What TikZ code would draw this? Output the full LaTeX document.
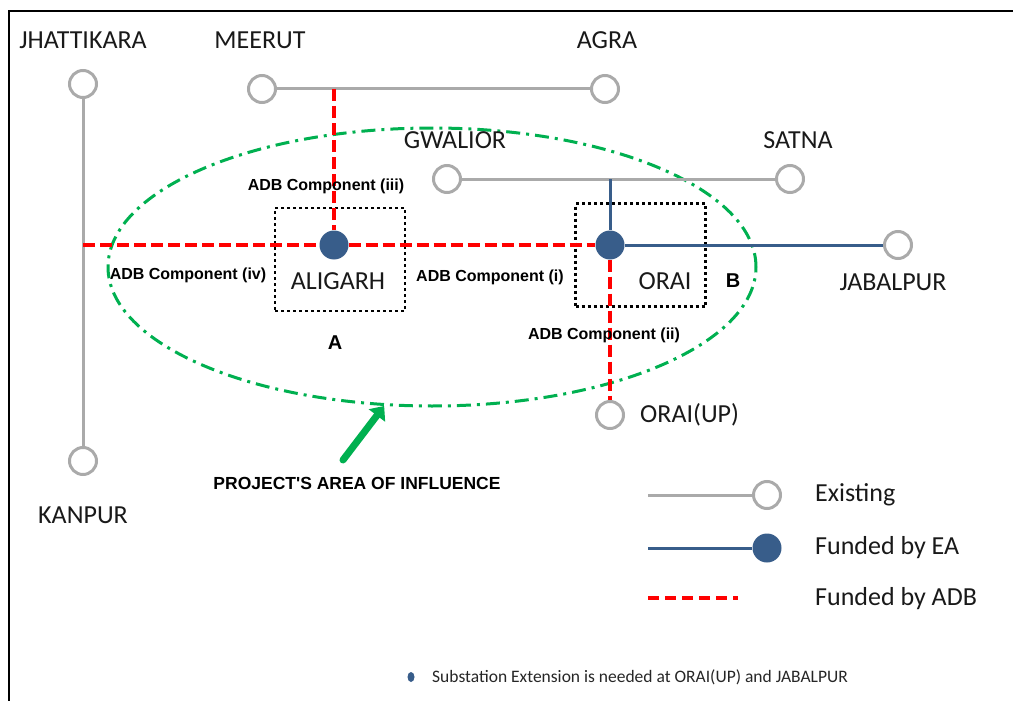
\documentclass[tikz,border=0pt]{standalone}
\usepackage{fontspec}
\setmainfont{Carlito}
\newfontfamily\arialfont{Liberation Sans}
\usetikzlibrary{positioning}
\usetikzlibrary{calc}
\usetikzlibrary{shapes.geometric}
\usetikzlibrary{arrows.meta}
\definecolor{linegrey}{RGB}{170,170,170}
\definecolor{eablue}{RGB}{56,93,138}
\definecolor{adbred}{RGB}{255,0,0}
\definecolor{areagreen}{RGB}{0,176,80}
\tikzset{
    % Substation symbols
    existing station/.style={
        draw=linegrey, line width=3pt, circle, fill=white,
        inner sep=0, minimum size=27pt},
    funded station/.style={
        circle, fill=eablue, inner sep=0, minimum size=29pt},
%
    % Lines, one style for each source of funds
    existing line/.style={draw=linegrey, line width=3pt},
    ea line/.style={draw=eablue, line width=3pt},
    adb line/.style={draw=adbred, line width=3.5pt, dash pattern=on 12pt off 5pt},
%
    % Text
    city/.style={font=\fontsize{26}{30}\selectfont, text=black!90, inner sep=0},
    component/.style={font=\arialfont\bfseries\fontsize{16}{19}\selectfont, inner sep=0},
%
    % Dotted box round a funded substation
    site box/.style={
        draw, line width=2.5pt, dash pattern=on 3pt off 3pt,
        inner sep=0, minimum width=130pt, minimum height=103pt}}

\begin{document}
\begin{tikzpicture}[x=1pt, y=-1pt]
\useasboundingbox (0,0) rectangle (1013,701);

% Frame
\draw[line width=2pt] (9,701) -- (9,11) -- (1013,11);

% Area of influence
\node[ellipse, draw=areagreen, line width=3pt,
    dash pattern=on 14pt off 6pt on 3pt off 6pt,
    inner sep=0, minimum width=648pt, minimum height=278pt]
    (influence) at (432,267) {};

% Boxes A and B
\node[site box] (box a) at (340,259.5) {};
\node[site box] (box b) at (640.5,255) {};
\node[component, font=\arialfont\bfseries\fontsize{20}{24}\selectfont]
    (label a) at (335,343) {A};
\node[component, font=\arialfont\bfseries\fontsize{20}{24}\selectfont]
    (label b) at (733,281) {B};

% Substations
\node[existing station] (jhattikara) at (83,84) {};
\node[existing station] (kanpur) at (83,461) {};
\node[existing station] (meerut) at (262,89) {};
\node[existing station] (agra) at (605,89) {};
\node[existing station] (gwalior) at (447,179) {};
\node[existing station] (satna) at (790,179) {};
\node[existing station] (jabalpur) at (898,245) {};
\node[existing station] (orai up) at (610,415) {};
\node[funded station] (aligarh) at (334,245) {};
\node[funded station] (orai) at (610,245) {};

% Taps on the existing lines
\coordinate (meerut tap) at (334,89);
\coordinate (gwalior tap) at (610,179);
\coordinate (kanpur tap) at (83,245);

% Existing lines
\draw[existing line] (jhattikara) -- (kanpur);
\draw[existing line] (meerut) -- (agra);
\draw[existing line] (gwalior) -- (satna);

% Lines funded by EA
\draw[ea line] (gwalior tap) -- (orai);
\draw[ea line] (orai) -- (jabalpur);

% Lines funded by ADB
\draw[adb line] (meerut tap) -- (aligarh);
\draw[adb line] (kanpur tap) -- (aligarh);
\draw[adb line] (aligarh) -- (orai);
\draw[adb line] (orai) -- (orai up);

% Place names
\node[city] (jhattikara name) at (83,40) {JHATTIKARA};
\node[city] (kanpur name) at (83,515) {KANPUR};
\node[city] (meerut name) at (260,40) {MEERUT};
\node[city] (agra name) at (607,40) {AGRA};
\node[city] (gwalior name) at (455,140) {GWALIOR};
\node[city] (satna name) at (798,140) {SATNA};
\node[city] (jabalpur name) at (893,282) {JABALPUR};
\node[city, anchor=west] (orai up name) at (640,415) {ORAI(UP)};
\node[city] (aligarh name) at (338,281) {ALIGARH};
\node[city] (orai name) at (665,281) {ORAI};

% Components
\node[component] (component iii) at (326,186) {ADB Component (iii)};
\node[component] (component iv) at (188,275) {ADB Component (iv)};
\node[component] (component i) at (490,277) {ADB Component (i)};
\node[component] (component ii) at (604,335) {ADB Component (ii)};

% Pointer to the area of influence
\node[component, font=\arialfont\bfseries\fontsize{17.5}{21}\selectfont]
    (area name) at (357,483) {PROJECT'S AREA OF INFLUENCE};
\coordinate (area arrow tail) at (343,460);
\draw[areagreen, line width=7pt, line cap=round,
    -{Triangle[length=12pt, width=20pt]}]
    (area arrow tail) -- (influence.251);

% Legend
\node[existing station] (key existing) at (767,495) {};
\node[funded station] (key ea) at (767,548) {};
\coordinate (key existing start) at (648,495);
\coordinate (key ea start) at (648,548);
\coordinate (key adb start) at (648,598);
\coordinate (key adb end) at (738,598);
\draw[existing line] (key existing start) -- (key existing);
\draw[ea line] (key ea start) -- (key ea);
\draw[adb line, dash pattern=on 11pt off 6pt] (key adb start) -- (key adb end);
\node[city, anchor=west] (key existing text) at (815,495) {Existing};
\node[city, anchor=west] (key ea text) at (815,548) {Funded by EA};
\node[city, anchor=west] (key adb text) at (815,599) {Funded by ADB};

% Note
\node[ellipse, fill=eablue, inner sep=0, minimum width=7pt, minimum height=10pt]
    (note bullet) at (411,677) {};
\node[anchor=west, inner sep=0, text=black!85, font=\fontsize{17.5}{21}\selectfont]
    (note) at (432,677) {Substation Extension is needed at ORAI(UP) and JABALPUR};

\end{tikzpicture}
\end{document}
